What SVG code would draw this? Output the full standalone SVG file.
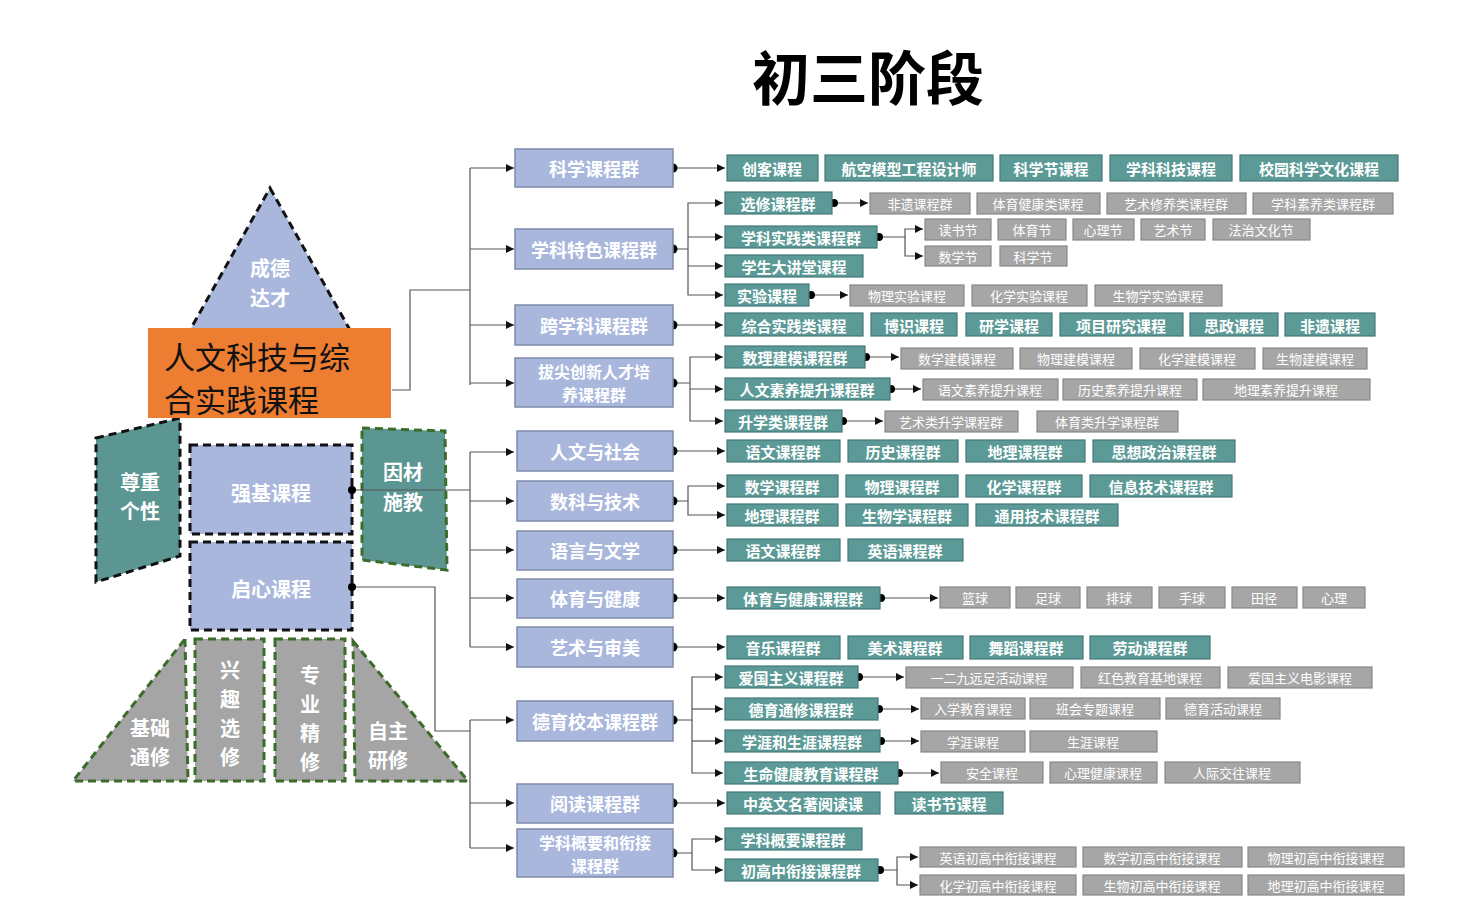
<svg xmlns="http://www.w3.org/2000/svg" width="1461" height="922" viewBox="0 0 1461 922">
<style>
text{font-family:"Noto Sans CJK SC","Noto Sans",sans-serif;dominant-baseline:central;text-anchor:middle;fill:#fff;font-weight:bold}
.b{fill:#a9b7dd;stroke:#7f8bab;stroke-width:1.5}
.t{fill:#5b9a96;stroke:#45787a;stroke-width:1.2}
.g{fill:#a6a6a6;stroke:#888;stroke-width:1.2}
.bt{font-size:18px}.b2{font-size:16px}.tt{font-size:15px}.gt{font-size:13px;font-weight:normal}
.c{fill:none;stroke:#555;stroke-width:1.2}
.d{fill:#000}
.dk{stroke:#111;stroke-width:3;stroke-dasharray:8,5}
.dg{stroke:#3d6b2a;stroke-width:3;stroke-dasharray:8,5}
.rt{font-size:20px}
</style>
<defs><marker id="a" viewBox="0 0 8 8" refX="8" refY="4" markerWidth="8" markerHeight="8" markerUnits="userSpaceOnUse" orient="auto"><path d="M0,0L8,4L0,8z" fill="#111"/></marker></defs>
<rect width="1461" height="922" fill="#fff"/>
<text x="868" y="75" style="font-size:58px;fill:#000">初三阶段</text>

<g id="rocket">
<g id="nose"><path d="M270,188 L350,330 L350,393 L190,393 L190,330 Z" fill="#a9b7dd" class="dk"/><text class="rt" x="270" y="267">成德</text><text class="rt" x="270" y="297">达才</text></g>
<g id="wingL"><polygon points="96,438 180,418 180,556 96,582" fill="#5b9693" class="dk"/><text class="rt" x="140" y="481">尊重</text><text class="rt" x="140" y="510">个性</text></g>
<g id="wingR"><polygon points="362,428 445,431 447,570 362,560" fill="#5b9693" class="dg"/><text class="rt" x="403" y="471">因材</text><text class="rt" x="403" y="501">施教</text></g>
<g id="qiangji"><rect x="190" y="445" width="162" height="89" fill="#a9b7dd" class="dk"/><text class="rt" x="271" y="492">强基课程</text></g>
<g id="qixin"><rect x="190" y="542" width="162" height="88" fill="#a9b7dd" class="dk"/><text class="rt" x="271" y="588">启心课程</text></g>
<g id="jichu"><polygon points="185,639 188,781 73,781" fill="#a5a5a5" class="dg"/><text class="rt" x="150" y="727">基础</text><text class="rt" x="150" y="756">通修</text></g>
<g id="xingqu"><rect x="195" y="639" width="69" height="142" fill="#a5a5a5" class="dg"/><text class="rt" x="230" y="669">兴</text><text class="rt" x="230" y="698">趣</text><text class="rt" x="230" y="727">选</text><text class="rt" x="230" y="756">修</text></g>
<g id="zhuanye"><rect x="275" y="639" width="70" height="142" fill="#a5a5a5" class="dg"/><text class="rt" x="310" y="674">专</text><text class="rt" x="310" y="703">业</text><text class="rt" x="310" y="732">精</text><text class="rt" x="310" y="761">修</text></g>
<g id="zizhu"><polygon points="353,641 468,781 355,781" fill="#a5a5a5" class="dg"/><text class="rt" x="388" y="730">自主</text><text class="rt" x="388" y="759">研修</text></g>
<g id="orange"><rect x="148" y="328" width="243" height="90" fill="#ed7d31"/><text x="164" y="355" style="font-size:31px;fill:#111;font-weight:normal;text-anchor:start">人文科技与综</text><text x="164" y="398" style="font-size:31px;fill:#111;font-weight:normal;text-anchor:start">合实践课程</text></g>
</g>

<g id="connectors">
<path class="c" d="M392,390H410V290H470M470,168V385M352,490H470M470,452V647M352,587H435V731H470M470,720V848"/>
<g marker-end="url(#a)" class="c">
<path d="M470,168H514"/><path d="M470,249H514"/><path d="M470,325H514"/><path d="M470,383H514"/>
<path d="M470,452H514"/><path d="M470,501H514"/><path d="M470,550H514"/><path d="M470,598H514"/><path d="M470,647H514"/>
<path d="M470,720H514"/><path d="M470,803H514"/><path d="M470,848H514"/>
<path d="M673,168H725"/>
<path d="M673,249H688V203H723"/><path d="M688,237H723"/><path d="M688,266H723"/><path d="M688,249V295H723"/>
<path d="M673,325H723"/>
<path d="M673,383H690V357H723"/><path d="M690,389H723"/><path d="M690,383V421H723"/>
<path d="M673,451H725"/>
<path d="M673,501H688V486H725"/><path d="M688,501V515H725"/>
<path d="M673,550H725"/><path d="M673,598H725"/><path d="M673,647H725"/>
<path d="M673,720H692V677H723"/><path d="M692,709H723"/><path d="M692,741H723"/><path d="M692,720V773H723"/>
<path d="M673,803H725"/>
<path d="M673,853H692V839H723"/><path d="M692,853V870H723"/>
<path d="M832,203H868"/>
<path d="M877,237H905V229H923"/><path d="M905,237V256H923"/>
<path d="M809,295H848"/>
<path d="M865,357H899"/><path d="M890,389H921"/><path d="M842,421H883"/>
<path d="M880,598H938"/>
<path d="M858,677H904"/><path d="M878,709H919"/><path d="M880,741H919"/><path d="M898,773H939"/>
<path d="M878,870H897V857H918"/><path d="M897,870V885H918"/>
</g>
<g class="d">
<circle cx="352" cy="490" r="4"/><circle cx="352" cy="587" r="4"/>
<circle cx="673" cy="168" r="4.5"/><circle cx="673" cy="249" r="4.5"/><circle cx="673" cy="325" r="4.5"/><circle cx="673" cy="383" r="4.5"/>
<circle cx="673" cy="451" r="4.5"/><circle cx="673" cy="501" r="4.5"/><circle cx="673" cy="550" r="4.5"/><circle cx="673" cy="598" r="4.5"/><circle cx="673" cy="647" r="4.5"/>
<circle cx="673" cy="720" r="4.5"/><circle cx="673" cy="803" r="4.5"/><circle cx="673" cy="853" r="4.5"/>
<circle cx="834" cy="203" r="4"/><circle cx="879" cy="237" r="4"/><circle cx="811" cy="295" r="4"/>
<circle cx="866" cy="357" r="4"/><circle cx="891" cy="389" r="4"/><circle cx="843" cy="421" r="4"/>
<circle cx="881" cy="598" r="4"/><circle cx="859" cy="677" r="4"/><circle cx="879" cy="709" r="4"/><circle cx="881" cy="741" r="4"/><circle cx="899" cy="773" r="4"/><circle cx="880" cy="870" r="4"/>
</g>
</g>

<g id="level1">
<g id="b1"><rect class="b" x="515" y="149" width="158" height="38"/><text class="bt" x="594" y="168">科学课程群</text></g>
<g id="b2"><rect class="b" x="515" y="229" width="158" height="40"/><text class="bt" x="594" y="249">学科特色课程群</text></g>
<g id="b3"><rect class="b" x="515" y="305" width="158" height="40"/><text class="bt" x="594" y="325">跨学科课程群</text></g>
<g id="b4"><rect class="b" x="515" y="358" width="158" height="49"/><text class="b2" x="594" y="371">拔尖创新人才培</text><text class="b2" x="594" y="394">养课程群</text></g>
<g id="b5"><rect class="b" x="517" y="431" width="156" height="40"/><text class="bt" x="595" y="451">人文与社会</text></g>
<g id="b6"><rect class="b" x="517" y="481" width="156" height="40"/><text class="bt" x="595" y="501">数科与技术</text></g>
<g id="b7"><rect class="b" x="517" y="531" width="156" height="39"/><text class="bt" x="595" y="550">语言与文学</text></g>
<g id="b8"><rect class="b" x="517" y="579" width="156" height="39"/><text class="bt" x="595" y="598">体育与健康</text></g>
<g id="b9"><rect class="b" x="517" y="627" width="156" height="40"/><text class="bt" x="595" y="647">艺术与审美</text></g>
<g id="b10"><rect class="b" x="517" y="701" width="156" height="40"/><text class="bt" x="595" y="721">德育校本课程群</text></g>
<g id="b11"><rect class="b" x="517" y="784" width="156" height="39"/><text class="bt" x="595" y="803">阅读课程群</text></g>
<g id="b12"><rect class="b" x="517" y="829" width="156" height="48"/><text class="b2" x="595" y="842">学科概要和衔接</text><text class="b2" x="595" y="865">课程群</text></g>
</g>

<g id="teal">
<g id="t1"><rect class="t" x="727" y="155" width="91" height="26"/><text class="tt" x="772" y="168">创客课程</text></g>
<g id="t2"><rect class="t" x="825" y="155" width="168" height="26"/><text class="tt" x="909" y="168">航空模型工程设计师</text></g>
<g id="t3"><rect class="t" x="1000" y="155" width="102" height="26"/><text class="tt" x="1051" y="168">科学节课程</text></g>
<g id="t4"><rect class="t" x="1110" y="155" width="122" height="26"/><text class="tt" x="1171" y="168">学科科技课程</text></g>
<g id="t5"><rect class="t" x="1240" y="155" width="158" height="26"/><text class="tt" x="1319" y="168">校园科学文化课程</text></g>
<g id="t6"><rect class="t" x="725" y="192" width="107" height="22"/><text class="tt" x="778" y="203">选修课程群</text></g>
<g id="t7"><rect class="t" x="725" y="226" width="152" height="22"/><text class="tt" x="801" y="237">学科实践类课程群</text></g>
<g id="t8"><rect class="t" x="725" y="255" width="138" height="22"/><text class="tt" x="794" y="266">学生大讲堂课程</text></g>
<g id="t9"><rect class="t" x="725" y="284" width="84" height="22"/><text class="tt" x="767" y="295">实验课程</text></g>
<g id="t10"><rect class="t" x="725" y="313" width="138" height="23"/><text class="tt" x="794" y="325">综合实践类课程</text></g>
<g id="t11"><rect class="t" x="871" y="313" width="86" height="23"/><text class="tt" x="914" y="325">博识课程</text></g>
<g id="t12"><rect class="t" x="966" y="313" width="86" height="23"/><text class="tt" x="1009" y="325">研学课程</text></g>
<g id="t13"><rect class="t" x="1060" y="313" width="123" height="23"/><text class="tt" x="1121" y="325">项目研究课程</text></g>
<g id="t14"><rect class="t" x="1190" y="313" width="88" height="23"/><text class="tt" x="1234" y="325">思政课程</text></g>
<g id="t15"><rect class="t" x="1285" y="313" width="90" height="23"/><text class="tt" x="1330" y="325">非遗课程</text></g>
<g id="t16"><rect class="t" x="725" y="346" width="140" height="22"/><text class="tt" x="795" y="357">数理建模课程群</text></g>
<g id="t17"><rect class="t" x="725" y="378" width="165" height="22"/><text class="tt" x="807" y="389">人文素养提升课程群</text></g>
<g id="t18"><rect class="t" x="725" y="410" width="117" height="22"/><text class="tt" x="783" y="421">升学类课程群</text></g>
<g id="t19"><rect class="t" x="727" y="440" width="113" height="22"/><text class="tt" x="783" y="451">语文课程群</text></g>
<g id="t20"><rect class="t" x="848" y="440" width="110" height="22"/><text class="tt" x="903" y="451">历史课程群</text></g>
<g id="t21"><rect class="t" x="966" y="440" width="119" height="22"/><text class="tt" x="1025" y="451">地理课程群</text></g>
<g id="t22"><rect class="t" x="1093" y="440" width="142" height="22"/><text class="tt" x="1164" y="451">思想政治课程群</text></g>
<g id="t23"><rect class="t" x="727" y="475" width="111" height="22"/><text class="tt" x="782" y="486">数学课程群</text></g>
<g id="t24"><rect class="t" x="846" y="475" width="112" height="22"/><text class="tt" x="902" y="486">物理课程群</text></g>
<g id="t25"><rect class="t" x="966" y="475" width="116" height="22"/><text class="tt" x="1024" y="486">化学课程群</text></g>
<g id="t26"><rect class="t" x="1090" y="475" width="142" height="22"/><text class="tt" x="1161" y="486">信息技术课程群</text></g>
<g id="t27"><rect class="t" x="727" y="504" width="111" height="22"/><text class="tt" x="782" y="515">地理课程群</text></g>
<g id="t28"><rect class="t" x="846" y="504" width="122" height="22"/><text class="tt" x="907" y="515">生物学课程群</text></g>
<g id="t29"><rect class="t" x="976" y="504" width="142" height="22"/><text class="tt" x="1047" y="515">通用技术课程群</text></g>
<g id="t30"><rect class="t" x="727" y="539" width="113" height="22"/><text class="tt" x="783" y="550">语文课程群</text></g>
<g id="t31"><rect class="t" x="848" y="539" width="115" height="22"/><text class="tt" x="905" y="550">英语课程群</text></g>
<g id="t32"><rect class="t" x="727" y="587" width="153" height="22"/><text class="tt" x="803" y="598">体育与健康课程群</text></g>
<g id="t33"><rect class="t" x="727" y="636" width="113" height="23"/><text class="tt" x="783" y="647">音乐课程群</text></g>
<g id="t34"><rect class="t" x="848" y="636" width="115" height="23"/><text class="tt" x="905" y="647">美术课程群</text></g>
<g id="t35"><rect class="t" x="970" y="636" width="113" height="23"/><text class="tt" x="1026" y="647">舞蹈课程群</text></g>
<g id="t36"><rect class="t" x="1090" y="636" width="120" height="23"/><text class="tt" x="1150" y="647">劳动课程群</text></g>
<g id="t37"><rect class="t" x="725" y="666" width="133" height="22"/><text class="tt" x="791" y="677">爱国主义课程群</text></g>
<g id="t38"><rect class="t" x="725" y="698" width="153" height="22"/><text class="tt" x="801" y="709">德育通修课程群</text></g>
<g id="t39"><rect class="t" x="725" y="730" width="155" height="22"/><text class="tt" x="802" y="741">学涯和生涯课程群</text></g>
<g id="t40"><rect class="t" x="725" y="762" width="173" height="22"/><text class="tt" x="811" y="773">生命健康教育课程群</text></g>
<g id="t41"><rect class="t" x="727" y="792" width="153" height="22"/><text class="tt" x="803" y="803">中英文名著阅读课</text></g>
<g id="t42"><rect class="t" x="895" y="792" width="108" height="22"/><text class="tt" x="949" y="803">读书节课程</text></g>
<g id="t43"><rect class="t" x="725" y="828" width="137" height="22"/><text class="tt" x="793" y="839">学科概要课程群</text></g>
<g id="t44"><rect class="t" x="725" y="859" width="153" height="22"/><text class="tt" x="801" y="870">初高中衔接课程群</text></g>
</g>

<g id="gray">
<g id="g1"><rect class="g" x="870" y="193" width="100" height="21"/><text class="gt" x="920" y="203">非遗课程群</text></g>
<g id="g2"><rect class="g" x="977" y="193" width="123" height="21"/><text class="gt" x="1038" y="203">体育健康类课程</text></g>
<g id="g3"><rect class="g" x="1107" y="193" width="139" height="21"/><text class="gt" x="1176" y="203">艺术修养类课程群</text></g>
<g id="g4"><rect class="g" x="1253" y="193" width="140" height="21"/><text class="gt" x="1323" y="203">学科素养类课程群</text></g>
<g id="g5"><rect class="g" x="925" y="219" width="66" height="21"/><text class="gt" x="958" y="229">读书节</text></g>
<g id="g6"><rect class="g" x="998" y="219" width="68" height="21"/><text class="gt" x="1032" y="229">体育节</text></g>
<g id="g7"><rect class="g" x="1073" y="219" width="61" height="21"/><text class="gt" x="1103" y="229">心理节</text></g>
<g id="g8"><rect class="g" x="1141" y="219" width="64" height="21"/><text class="gt" x="1173" y="229">艺术节</text></g>
<g id="g9"><rect class="g" x="1213" y="219" width="97" height="21"/><text class="gt" x="1261" y="229">法治文化节</text></g>
<g id="g10"><rect class="g" x="925" y="246" width="66" height="20"/><text class="gt" x="958" y="256">数学节</text></g>
<g id="g11"><rect class="g" x="1000" y="246" width="67" height="20"/><text class="gt" x="1033" y="256">科学节</text></g>
<g id="g12"><rect class="g" x="850" y="285" width="114" height="21"/><text class="gt" x="907" y="295">物理实验课程</text></g>
<g id="g13"><rect class="g" x="972" y="285" width="115" height="21"/><text class="gt" x="1029" y="295">化学实验课程</text></g>
<g id="g14"><rect class="g" x="1095" y="285" width="127" height="21"/><text class="gt" x="1158" y="295">生物学实验课程</text></g>
<g id="g15"><rect class="g" x="901" y="348" width="112" height="21"/><text class="gt" x="957" y="358">数学建模课程</text></g>
<g id="g16"><rect class="g" x="1020" y="348" width="112" height="21"/><text class="gt" x="1076" y="358">物理建模课程</text></g>
<g id="g17"><rect class="g" x="1140" y="348" width="115" height="21"/><text class="gt" x="1197" y="358">化学建模课程</text></g>
<g id="g18"><rect class="g" x="1263" y="348" width="104" height="21"/><text class="gt" x="1315" y="358">生物建模课程</text></g>
<g id="g19"><rect class="g" x="923" y="379" width="135" height="21"/><text class="gt" x="990" y="389">语文素养提升课程</text></g>
<g id="g20"><rect class="g" x="1063" y="379" width="134" height="21"/><text class="gt" x="1130" y="389">历史素养提升课程</text></g>
<g id="g21"><rect class="g" x="1203" y="379" width="167" height="21"/><text class="gt" x="1286" y="389">地理素养提升课程</text></g>
<g id="g22"><rect class="g" x="885" y="411" width="133" height="21"/><text class="gt" x="951" y="421">艺术类升学课程群</text></g>
<g id="g23"><rect class="g" x="1037" y="411" width="141" height="21"/><text class="gt" x="1107" y="421">体育类升学课程群</text></g>
<g id="g24"><rect class="g" x="940" y="587" width="70" height="21"/><text class="gt" x="975" y="597">篮球</text></g>
<g id="g25"><rect class="g" x="1016" y="587" width="64" height="21"/><text class="gt" x="1048" y="597">足球</text></g>
<g id="g26"><rect class="g" x="1087" y="587" width="65" height="21"/><text class="gt" x="1119" y="597">排球</text></g>
<g id="g27"><rect class="g" x="1159" y="587" width="66" height="21"/><text class="gt" x="1192" y="597">手球</text></g>
<g id="g28"><rect class="g" x="1232" y="587" width="65" height="21"/><text class="gt" x="1264" y="597">田径</text></g>
<g id="g29"><rect class="g" x="1303" y="587" width="62" height="21"/><text class="gt" x="1334" y="597">心理</text></g>
<g id="g30"><rect class="g" x="906" y="667" width="167" height="21"/><text class="gt" x="989" y="677">一二九远足活动课程</text></g>
<g id="g31"><rect class="g" x="1081" y="667" width="139" height="21"/><text class="gt" x="1150" y="677">红色教育基地课程</text></g>
<g id="g32"><rect class="g" x="1228" y="667" width="144" height="21"/><text class="gt" x="1300" y="677">爱国主义电影课程</text></g>
<g id="g33"><rect class="g" x="921" y="698" width="104" height="21"/><text class="gt" x="973" y="708">入学教育课程</text></g>
<g id="g34"><rect class="g" x="1030" y="698" width="130" height="21"/><text class="gt" x="1095" y="708">班会专题课程</text></g>
<g id="g35"><rect class="g" x="1166" y="698" width="114" height="21"/><text class="gt" x="1223" y="708">德育活动课程</text></g>
<g id="g36"><rect class="g" x="921" y="731" width="104" height="21"/><text class="gt" x="973" y="741">学涯课程</text></g>
<g id="g37"><rect class="g" x="1030" y="731" width="127" height="21"/><text class="gt" x="1093" y="741">生涯课程</text></g>
<g id="g38"><rect class="g" x="941" y="762" width="102" height="21"/><text class="gt" x="992" y="772">安全课程</text></g>
<g id="g39"><rect class="g" x="1050" y="762" width="107" height="21"/><text class="gt" x="1103" y="772">心理健康课程</text></g>
<g id="g40"><rect class="g" x="1165" y="762" width="135" height="21"/><text class="gt" x="1232" y="772">人际交往课程</text></g>
<g id="g41"><rect class="g" x="920" y="847" width="156" height="20"/><text class="gt" x="998" y="857">英语初高中衔接课程</text></g>
<g id="g42"><rect class="g" x="1083" y="847" width="159" height="20"/><text class="gt" x="1162" y="857">数学初高中衔接课程</text></g>
<g id="g43"><rect class="g" x="1248" y="847" width="156" height="20"/><text class="gt" x="1326" y="857">物理初高中衔接课程</text></g>
<g id="g44"><rect class="g" x="920" y="875" width="156" height="20"/><text class="gt" x="998" y="885">化学初高中衔接课程</text></g>
<g id="g45"><rect class="g" x="1083" y="875" width="159" height="20"/><text class="gt" x="1162" y="885">生物初高中衔接课程</text></g>
<g id="g46"><rect class="g" x="1248" y="875" width="156" height="20"/><text class="gt" x="1326" y="885">地理初高中衔接课程</text></g>
</g>
</svg>
